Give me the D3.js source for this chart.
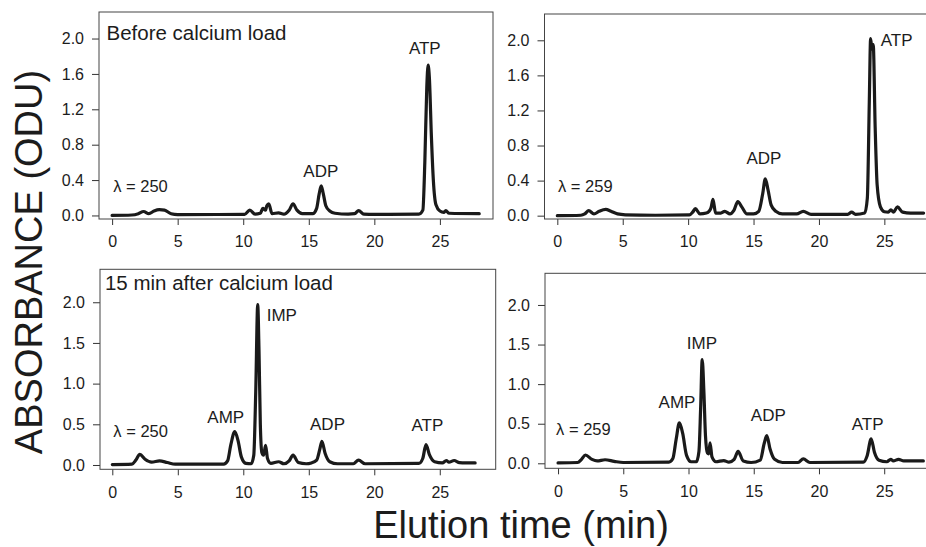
<!DOCTYPE html>
<html>
<head>
<meta charset="utf-8">
<script src="https://cdn.jsdelivr.net/npm/d3@7"></script>
<style>
	body { margin: 0; background: #fff; }
	#chart { width: 926px; height: 547px; }
	text { font-family: "Liberation Sans", Arial, sans-serif; fill: #1c1c1c; }
	.axis path, .axis line { stroke: #333; }
	.frame { fill: none; stroke: #444; stroke-width: 1; }
	.trace { fill: none; stroke: #1a1a1a; stroke-width: 3.2; stroke-linejoin: round; stroke-linecap: round; }
</style>
</head>
<body>
<div id="chart"></div>
<script>
	// chromatogram traces, [elution time (min), absorbance (ODU)]
	var before250 = [[0, 0], [1.5, 0.005], [2.0, 0.02], [2.4, 0.045], [2.8, 0.02], [3.2, 0.05], [3.6, 0.065], [4.0, 0.06],
		[4.5, 0.02], [5.0, 0.01], [10.1, 0.012], [10.5, 0.06], [10.9, 0.015], [11.3, 0.025], [11.5, 0.08], [11.7, 0.06],
		[11.8, 0.11], [11.95, 0.13], [12.2, 0.02], [12.7, 0.03], [13.1, 0.015], [13.5, 0.06], [13.8, 0.13], [14.1, 0.06],
		[14.5, 0.02], [15.3, 0.02], [15.6, 0.08], [15.8, 0.25], [15.95, 0.335], [16.1, 0.25], [16.3, 0.11], [16.6, 0.05],
		[17.0, 0.025], [18.0, 0.015], [18.5, 0.02], [18.8, 0.055], [19.2, 0.015], [20.0, 0.012], [23.4, 0.015], [23.7, 0.06],
		[23.85, 0.6], [24.0, 1.45], [24.1, 1.70], [24.2, 1.55], [24.35, 0.9], [24.5, 0.4], [24.7, 0.12], [25.0, 0.05],
		[25.3, 0.035], [25.45, 0.055], [25.7, 0.025], [28.0, 0.02]];

	var before259 = [[0, 0], [1.8, 0.005], [2.1, 0.02], [2.4, 0.057], [2.8, 0.02], [3.2, 0.05], [3.7, 0.072], [4.1, 0.05],
		[4.6, 0.02], [5.2, 0.01], [7.5, 0.005], [10.1, 0.008], [10.35, 0.04], [10.55, 0.08], [10.9, 0.02], [11.4, 0.03],
		[11.6, 0.05], [11.75, 0.09], [11.9, 0.185], [12.1, 0.03], [12.5, 0.03], [12.8, 0.05], [13.2, 0.02], [13.5, 0.06],
		[13.8, 0.16], [14.1, 0.1], [14.5, 0.02], [15.0, 0.02], [15.4, 0.05], [15.7, 0.25], [15.9, 0.42], [16.1, 0.3],
		[16.35, 0.12], [16.7, 0.05], [17.2, 0.02], [18.3, 0.02], [18.8, 0.05], [19.4, 0.015], [22.2, 0.015], [22.5, 0.04],
		[22.8, 0.015], [23.5, 0.03], [23.7, 0.2], [23.85, 1.3], [23.95, 2.02], [24.05, 1.9], [24.15, 1.95], [24.3, 1.0],
		[24.45, 0.35], [24.7, 0.1], [25.0, 0.045], [25.3, 0.04], [25.5, 0.065], [25.7, 0.04], [26.0, 0.1], [26.4, 0.04],
		[27.0, 0.03], [28.0, 0.03]];

	var after250 = [[0, 0.005], [1.5, 0.01], [1.8, 0.06], [2.1, 0.13], [2.5, 0.07], [3.0, 0.035], [3.6, 0.05], [4.2, 0.03],
		[4.8, 0.01], [8.5, 0.01], [8.8, 0.05], [9.05, 0.25], [9.35, 0.41], [9.6, 0.3], [9.85, 0.1], [10.2, 0.02],
		[10.6, 0.015], [10.8, 0.12], [10.95, 0.9], [11.1, 1.97], [11.2, 1.4], [11.3, 0.5], [11.42, 0.15], [11.55, 0.12],
		[11.7, 0.24], [11.85, 0.08], [12.1, 0.02], [12.7, 0.04], [13.1, 0.015], [13.5, 0.05], [13.8, 0.12], [14.2, 0.03],
		[14.8, 0.015], [15.2, 0.025], [15.6, 0.06], [15.85, 0.2], [16.0, 0.29], [16.25, 0.14], [16.6, 0.04], [17.2, 0.015],
		[18.4, 0.015], [18.8, 0.06], [19.3, 0.015], [23.4, 0.02], [23.7, 0.08], [23.95, 0.25], [24.2, 0.13], [24.6, 0.04],
		[25.2, 0.025], [25.5, 0.055], [25.7, 0.035], [26.1, 0.055], [26.5, 0.03], [27.7, 0.025]];

	var after259 = [[0, 0.005], [1.5, 0.01], [1.8, 0.05], [2.1, 0.105], [2.6, 0.05], [3.0, 0.03], [3.6, 0.045], [4.3, 0.025],
		[5.0, 0.01], [8.5, 0.015], [8.8, 0.06], [9.05, 0.3], [9.3, 0.51], [9.55, 0.38], [9.85, 0.1], [10.2, 0.02],
		[10.6, 0.02], [10.8, 0.15], [10.93, 0.7], [11.05, 1.31], [11.18, 0.9], [11.3, 0.35], [11.45, 0.13], [11.55, 0.12],
		[11.65, 0.26], [11.8, 0.08], [12.1, 0.02], [12.7, 0.035], [13.1, 0.015], [13.5, 0.05], [13.8, 0.15], [14.2, 0.03],
		[14.8, 0.01], [15.5, 0.04], [15.8, 0.25], [16.0, 0.35], [16.25, 0.18], [16.6, 0.05], [17.2, 0.01], [18.4, 0.01],
		[18.8, 0.055], [19.3, 0.01], [23.4, 0.015], [23.7, 0.1], [24.0, 0.31], [24.25, 0.14], [24.6, 0.04], [25.2, 0.02],
		[25.5, 0.05], [25.7, 0.03], [26.1, 0.05], [26.5, 0.03], [28.0, 0.03]];

	// tick values
	var xTicks = [0, 5, 10, 15, 20, 25];
	var yTicksTop = [0, 0.4, 0.8, 1.2, 1.6, 2.0];
	var yTicksBottom = [0, 0.5, 1.0, 1.5, 2.0];

	// peak / panel labels, [text, time, absorbance, anchor, font px]
	var labelsBefore250 = [["Before calcium load", -0.43, 1.98, "start", 20.5], ["ATP", 23.85, 1.83, "middle", 17],
		["ADP", 15.92, 0.44, "middle", 17], ["\u03bb = 250", 0.08, 0.27, "start", 16.5]];
	var labelsBefore259 = [["ATP", 24.72, 1.935, "start", 17], ["ADP", 15.79, 0.59, "middle", 17],
		["\u03bb = 259", 0.05, 0.27, "start", 16.5]];
	var labelsAfter250 = [["15 min after calcium load", -0.56, 2.15, "start", 20.5], ["IMP", 11.79, 1.77, "start", 17],
		["AMP", 8.66, 0.52, "middle", 17], ["ADP", 16.43, 0.43, "middle", 17], ["ATP", 24.06, 0.42, "middle", 17],
		["\u03bb = 250", 0.08, 0.35, "start", 16.5]];
	var labelsAfter259 = [["IMP", 11.03, 1.44, "middle", 17], ["AMP", 9.12, 0.70, "middle", 17],
		["ADP", 16.12, 0.53, "middle", 17], ["ATP", 23.73, 0.42, "middle", 17], ["\u03bb = 259", -0.15, 0.36, "start", 16.5]];

	var renderGraph = function() {
		var svg = d3.select("#chart").append("svg")
			.attr("width", 926)
			.attr("height", 547);

		var panels = [
			{ data: before250, labels: labelsBefore250, yTicks: yTicksTop,
				box: { x: 99, y: 12, w: 394, h: 207 }, xDomain: [-1, 29.05], yDomain: [-0.04, 2.3] },
			{ data: before259, labels: labelsBefore259, yTicks: yTicksTop,
				box: { x: 544.5, y: 14, w: 394, h: 205 }, xDomain: [-0.98, 29.14], yDomain: [-0.038, 2.3] },
			{ data: after250, labels: labelsAfter250, yTicks: yTicksBottom,
				box: { x: 100, y: 269.3, w: 395.7, h: 200 }, xDomain: [-0.94, 29.27], yDomain: [-0.053, 2.405] },
			{ data: after259, labels: labelsAfter259, yTicks: yTicksBottom,
				box: { x: 545, y: 273.3, w: 394, h: 195 }, xDomain: [-1.0, 29.2], yDomain: [-0.063, 2.4] }
		];

		panels.forEach(function(p) {
			var g = svg.append("g")
				.attr("transform", "translate(" + p.box.x + "," + p.box.y + ")");

			var x = d3.scaleLinear().domain(p.xDomain).range([0, p.box.w]);
			var y = d3.scaleLinear().domain(p.yDomain).range([p.box.h, 0]);

			var xAxis = d3.axisBottom(x)
				.tickValues(xTicks)
				.tickSizeInner(6)
				.tickSizeOuter(0)
				.tickPadding(11)
				.tickFormat(d3.format("d"));

			var yAxis = d3.axisLeft(y)
				.tickValues(p.yTicks)
				.tickSizeInner(7)
				.tickSizeOuter(0)
				.tickPadding(8)
				.tickFormat(d3.format(".1f"));

			g.append("g")
				.attr("class", "x axis")
				.attr("transform", "translate(0," + p.box.h + ")")
				.call(xAxis)
				.call(function(s) { s.select(".domain").remove(); });

			g.append("g")
				.attr("class", "y axis")
				.call(yAxis)
				.call(function(s) { s.select(".domain").remove(); });

			g.selectAll(".axis text")
				.style("font-size", "16px")
				.style("font-family", "Liberation Sans, Arial, sans-serif");

			g.append("rect")
				.attr("class", "frame")
				.attr("width", p.box.w)
				.attr("height", p.box.h);

			var line = d3.line()
				.x(function(d) { return x(d[0]); })
				.y(function(d) { return y(d[1]); })
				.curve(d3.curveMonotoneX);

			g.append("path")
				.datum(p.data)
				.attr("class", "trace")
				.attr("d", line);

			g.selectAll(".lbl")
				.data(p.labels)
				.enter().append("text")
				.attr("class", "lbl")
				.attr("x", function(d) { return x(d[1]); })
				.attr("y", function(d) { return y(d[2]); })
				.style("text-anchor", function(d) { return d[3]; })
				.style("font-size", function(d) { return d[4] + "px"; })
				.text(function(d) { return d[0]; });
		});

		// shared axis titles
		svg.append("text")
			.attr("transform", "translate(42,262) rotate(-90)")
			.style("text-anchor", "middle")
			.style("font-size", "38px")
			.text("ABSORBANCE (ODU)");

		svg.append("text")
			.attr("x", 521)
			.attr("y", 538)
			.style("text-anchor", "middle")
			.style("font-size", "38px")
			.text("Elution time (min)");
	};

	renderGraph();
</script>
</body>
</html>
